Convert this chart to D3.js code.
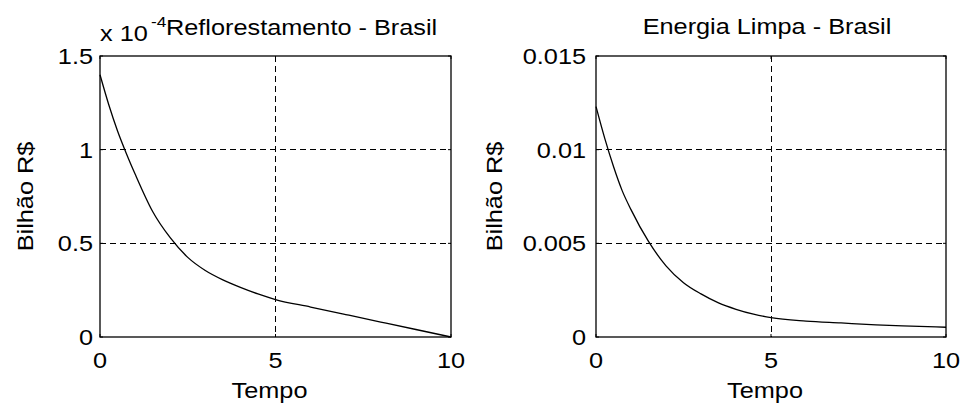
<!DOCTYPE html>
<html>
<head>
<meta charset="utf-8">
<script src="https://cdn.jsdelivr.net/npm/d3@7"></script>
<style>
  body { margin: 0; background: #fff; }
  text { font-family: "Liberation Sans", Arial, sans-serif; fill: #000; }
</style>
</head>
<body>
<svg id="chart" width="960" height="409"></svg>
<script>
// time axis shared by both panels
var tempo = [0, 0.25, 0.5, 0.75, 1, 1.5, 2, 2.5, 3, 3.5, 4, 4.5, 5, 6, 7, 8, 9, 10];

// Reflorestamento values, in units of 1e-4 (axis shows "x 10^-4")
var reflorestamento = [1.40, 1.24, 1.10, 0.98, 0.87, 0.67, 0.53, 0.425, 0.355, 0.305, 0.265, 0.23, 0.20, 0.16, 0.12, 0.08, 0.04, 0.00];

// Energia Limpa values
var energiaLimpa = [0.0123, 0.0106, 0.0091, 0.0078, 0.0068, 0.0051, 0.0038, 0.0029, 0.0023, 0.00182, 0.00148, 0.00122, 0.00103, 0.00085, 0.00075, 0.00065, 0.00058, 0.00052];

var xTicks = [0, 5, 10];
var refloTicks = [0, 0.5, 1, 1.5];
var energiaTicks = [0, 0.005, 0.01, 0.015];

var svg = d3.select("#chart");
var sx = 1.15; // horizontal stretch of the screen font

function label(g, txt, x, y, anchor, size, rot) {
    var t = "translate(" + x + "," + y + ")" + (rot ? " rotate(" + rot + ")" : "") + " scale(" + sx + ",1)";
    return g.append("text")
        .attr("transform", t)
        .attr("text-anchor", anchor)
        .style("font-size", (size || 22) + "px")
        .text(txt);
}

function drawPanel(opt) {
    var g = svg.append("g");
    var x = d3.scaleLinear().domain([0, 10]).range([opt.left, opt.right]);
    var y = d3.scaleLinear().domain(opt.yDomain).range([opt.bottom, opt.top]);

    //dashed grid at the inner ticks
    g.selectAll(".gx").data(xTicks.slice(1, -1)).enter().append("line")
        .attr("x1", d => x(d)).attr("x2", d => x(d))
        .attr("y1", opt.top).attr("y2", opt.bottom)
        .attr("stroke", "#000").attr("stroke-dasharray", "6,4")
        .attr("shape-rendering", "crispEdges");
    g.selectAll(".gy").data(opt.yTicks.slice(1, -1)).enter().append("line")
        .attr("y1", d => y(d)).attr("y2", d => y(d))
        .attr("x1", opt.left).attr("x2", opt.right)
        .attr("stroke", "#000").attr("stroke-dasharray", "6,4")
        .attr("shape-rendering", "crispEdges");

    //small inner ticks
    opt.yTicks.forEach(function(d) {
        g.append("line").attr("x1", opt.left).attr("x2", opt.left + 3)
            .attr("y1", y(d)).attr("y2", y(d)).attr("stroke", "#000");
        g.append("line").attr("x1", opt.right - 3).attr("x2", opt.right)
            .attr("y1", y(d)).attr("y2", y(d)).attr("stroke", "#000");
    });
    xTicks.forEach(function(d) {
        g.append("line").attr("x1", x(d)).attr("x2", x(d))
            .attr("y1", opt.bottom).attr("y2", opt.bottom - 3).attr("stroke", "#000");
        g.append("line").attr("x1", x(d)).attr("x2", x(d))
            .attr("y1", opt.top).attr("y2", opt.top + 3).attr("stroke", "#000");
    });

    //the curve
    var line = d3.line().x((d, i) => x(tempo[i])).y(d => y(d)).curve(d3.curveMonotoneX);
    g.append("path").datum(opt.values)
        .attr("d", line)
        .attr("fill", "none").attr("stroke", "#000").attr("stroke-width", 1.3);

    //box
    g.append("rect")
        .attr("x", opt.left).attr("y", opt.top)
        .attr("width", opt.right - opt.left).attr("height", opt.bottom - opt.top)
        .attr("fill", "none").attr("stroke", "#000").attr("stroke-width", 1.3);

    //tick labels
    opt.yTicks.forEach(function(d) {
        label(g, String(d), opt.left - opt.tickGap, y(d) + 8, "end");
    });
    xTicks.forEach(function(d) {
        label(g, String(d), x(d), opt.bottom + 31, "middle");
    });

    //axis titles
    label(g, "Tempo", (opt.left + opt.right) / 2 - 6, opt.bottom + 61, "middle");
    label(g, "Bilhão R$", opt.yLabelX, (opt.top + opt.bottom) / 2, "middle", 22, -90);
    return g;
}

var left = drawPanel({
    left: 100, right: 451, top: 56, bottom: 337,
    yDomain: [0, 1.5], yTicks: refloTicks, values: reflorestamento,
    tickGap: 7, yLabelX: 33
});
label(left, "x 10", 100, 41, "start");
label(left, "-4", 151, 27, "start", 15);
label(left, "Reflorestamento - Brasil", 166, 35, "start");

var right = drawPanel({
    left: 596, right: 946, top: 56, bottom: 337,
    yDomain: [0, 0.015], yTicks: energiaTicks, values: energiaLimpa,
    tickGap: 10, yLabelX: 502
});
label(right, "Energia Limpa - Brasil", 767, 34, "middle");
</script>
</body>
</html>
